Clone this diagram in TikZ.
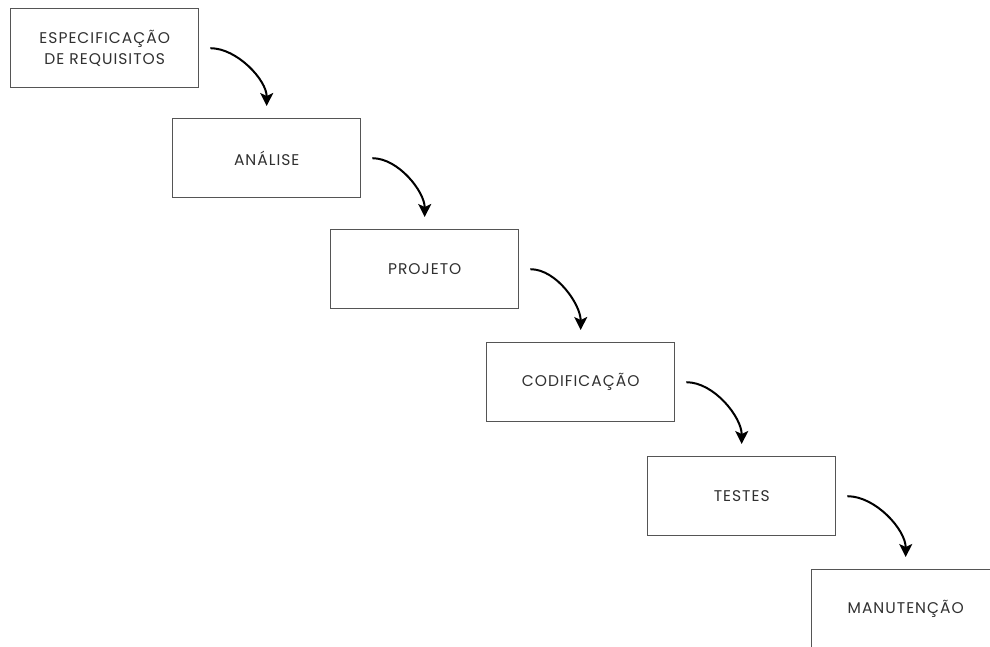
\documentclass[tikz,border=0pt]{standalone}
\usepackage{fontspec}
\setmainfont{Poppins}[LetterSpace=6.5]
\usetikzlibrary{arrows.meta}
\definecolor{boxline}{HTML}{555555}
\definecolor{labeltext}{HTML}{303030}
\begin{document}
\begin{tikzpicture}[x=1pt,y=-1pt,
  stage/.style={draw=boxline, line width=1.4pt, minimum width=188pt,
    minimum height=79pt, inner sep=0pt, text=labeltext, align=center,
    font=\fontsize{15.5}{21}\selectfont, anchor=north west},
  flow/.style={-{Stealth[length=13pt,width=13pt,inset=3pt]}, line width=2pt,
    black, shorten <=11pt, shorten >=12pt}]
\useasboundingbox (0,0) rectangle (990,646);
\begin{scope}
\clip (0,0) rectangle (990,646);
\node[stage] (b1) at (10,8)    {ESPECIFICAÇÃO\\DE REQUISITOS};
\node[stage] (b2) at (172,118) {ANÁLISE};
\node[stage] (b3) at (330,229) {PROJETO};
\node[stage] (b4) at (486,342) {CODIFICAÇÃO};
\node[stage] (b5) at (647,456) {TESTES};
\node[stage] (b6) at (811,569) {MANUTENÇÃO};
\end{scope}
\draw[flow] (b1.east) to[out=0,in=90] (b2.north);
\draw[flow] (b2.east) to[out=0,in=90] (b3.north);
\draw[flow] (b3.east) to[out=0,in=90] (b4.north);
\draw[flow] (b4.east) to[out=0,in=90] (b5.north);
\draw[flow] (b5.east) to[out=0,in=90] (b6.north);
\end{tikzpicture}
\end{document}
